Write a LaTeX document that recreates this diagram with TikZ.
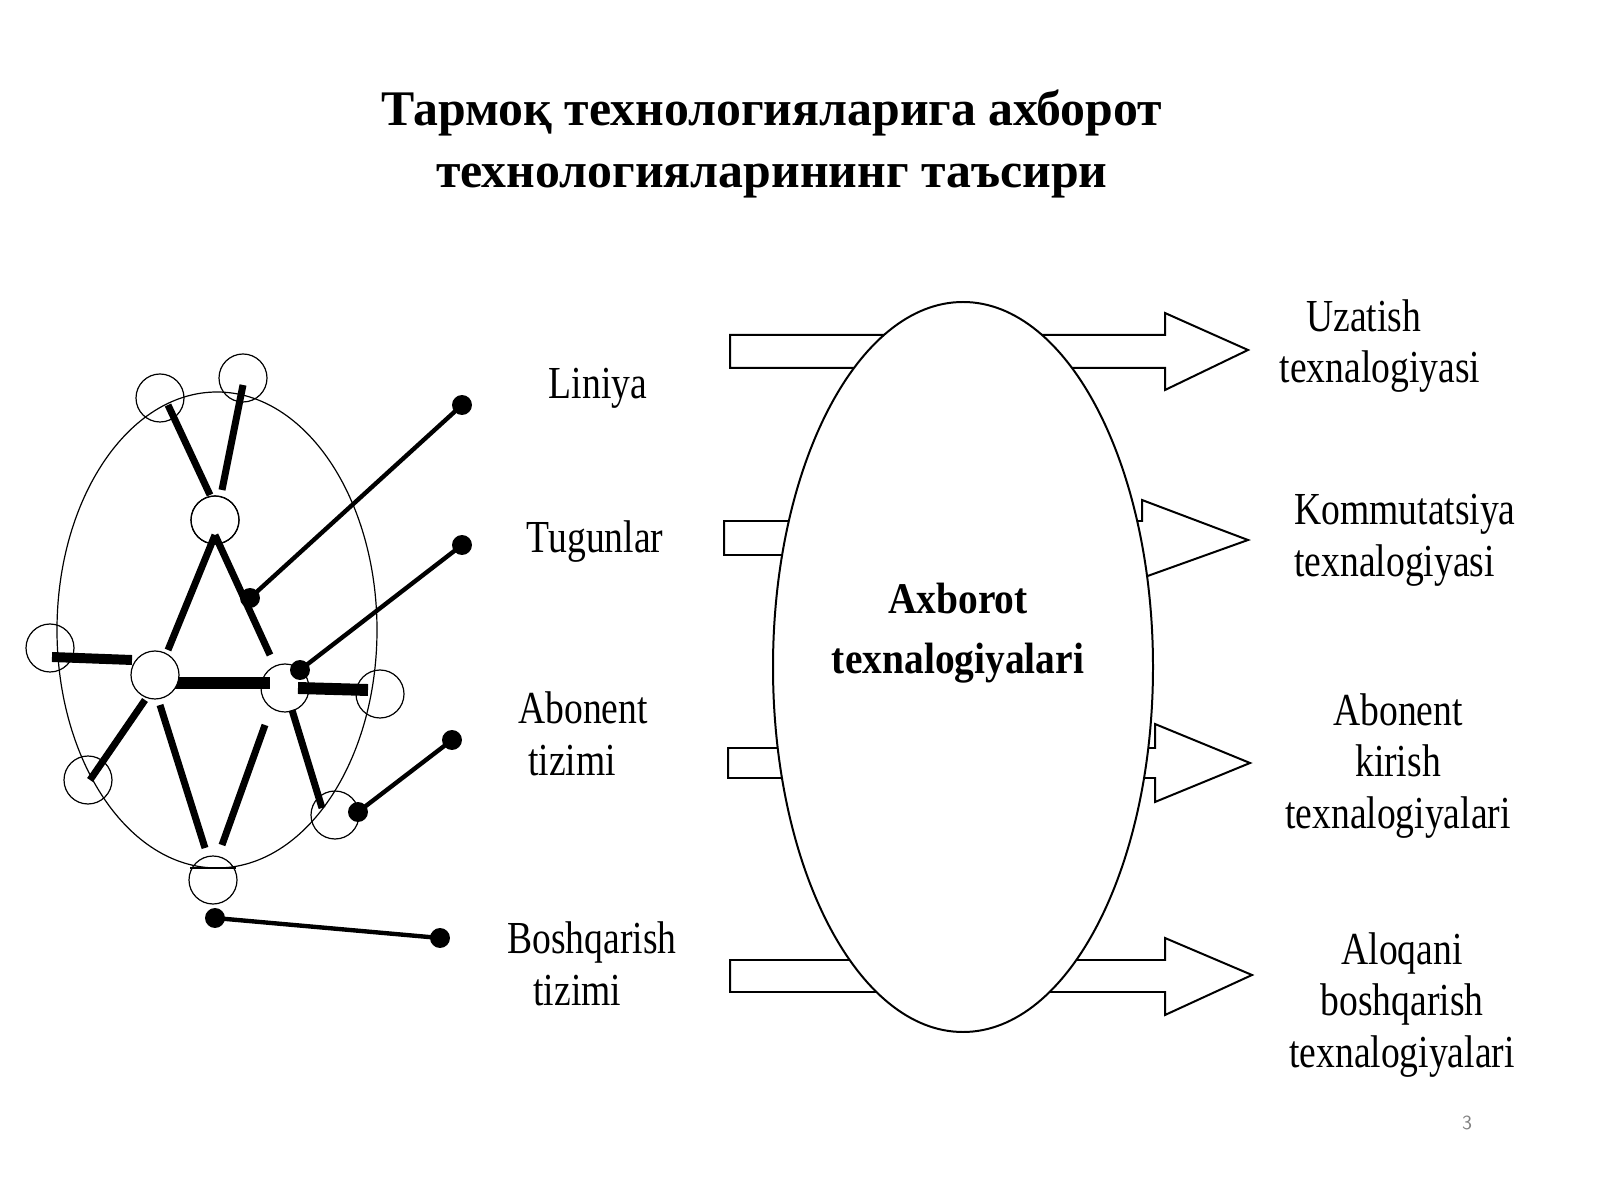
\documentclass[tikz,border=0pt]{standalone}
\usepackage{fontspec}
\setmainfont{Liberation Serif}
\begin{document}
\begin{tikzpicture}[x=0.5bp,y=-0.5bp,
  lbl/.style={font=\fontsize{23}{26}\selectfont, xscale=0.82, transform shape, align=center, inner sep=0},
  thin/.style={line width=0.6pt},
  bar/.style={line width=3.5pt},
  wire/.style={line width=2.2pt},
  dot/.style={circle, fill=black, inner sep=0, minimum size=10pt},
  sc/.style={thin, fill=white},
  arr/.style={line width=1pt, fill=white}]
\path[use as bounding box, fill=white] (0,0) rectangle (1600,1200);
% title
\node[font=\bfseries\fontsize{25}{31}\selectfont, align=center] (title) at (772,144) {Тармоқ технологияларига ахборот\\технологияларининг таъсири};
% left network
\draw[thin] (217,630) ellipse (160 and 238);
\foreach \n/\p in {c1/{(160,398)},c2/{(243,378)},c3/{(215,520)},c4/{(50,648)},c6/{(380,694)},c7/{(88,780)},c8/{(335,815)},c9/{(213,880)}}
  \draw[thin] \p circle (24) coordinate (\n);
\draw[thin] (190,868) -- (236,868);
\draw[bar] (168,405) -- (210,495);
\draw[bar] (243,385) -- (222,490);
\draw[bar] (215,535) -- (168,650);
\draw[bar] (215,535) -- (270,655);
\draw[line width=5pt] (52,657) -- (132,660);
\draw[line width=6pt] (175,683) -- (270,683);
\draw[line width=6pt] (298,688) -- (368,690);
\draw[bar] (145,700) -- (90,780);
\draw[bar] (160,705) -- (205,848);
\draw[bar] (265,725) -- (222,845);
\draw[bar] (292,710) -- (322,808);
\draw[sc] (155,675) circle (24) coordinate (c5);
\draw[thin] (285,688) circle (24);
\draw[thin,fill=none] (215,520) circle (24);
\node[dot] (d1a) at (250,598) {}; \node[dot] (d1b) at (462,405) {};
\node[dot] (d2a) at (300,670) {}; \node[dot] (d2b) at (462,545) {};
\node[dot] (d3a) at (358,812) {}; \node[dot] (d3b) at (452,740) {};
\node[dot] (d4a) at (215,918) {}; \node[dot] (d4b) at (440,938) {};
\draw[wire] (d1a.center) -- (d1b.center);
\draw[wire] (d2a.center) -- (d2b.center);
\draw[wire] (d3a.center) -- (d3b.center);
\draw[wire] (d4a.center) -- (d4b.center);
% left labels
\node[lbl] (l1) at (598,388) {Liniya};
\node[lbl] (l2) at (595,542) {Tugunlar};
\node[lbl, align=left, anchor=west] (l3) at (518,734) {Abonent\\\hspace*{6pt}tizimi};
\node[lbl, align=left, anchor=west] (l4) at (507,964) {Boshqarish\\\hspace*{16pt}tizimi};
% arrows
\draw[arr] (730,335) -- (1165,335) -- (1165,313) -- (1248,350) -- (1165,390) -- (1165,368) -- (730,368) -- cycle;
\draw[arr] (724,521) -- (1142,521) -- (1142,500) -- (1248,540) -- (1142,578) -- (1142,555) -- (724,555) -- cycle;
\draw[arr] (728,748) -- (1155,748) -- (1155,724) -- (1250,763) -- (1155,802) -- (1155,778) -- (728,778) -- cycle;
\draw[arr] (730,960) -- (1165,960) -- (1165,938) -- (1252,975) -- (1165,1015) -- (1165,992) -- (730,992) -- cycle;
% central ellipse
\draw[line width=1pt, fill=white] (963,667) ellipse (190 and 365);
\node[font=\bfseries\fontsize{22}{30}\selectfont, xscale=0.9, transform shape, align=center] (ax) at (958,633) {Axborot\\texnalogiyalari};
% right labels
\node[lbl] (r1) at (1380,346) {\hspace*{-20pt}Uzatish\\texnalogiyasi};
\node[lbl, align=left] (r2) at (1405,540) {Kommutatsiya\\texnalogiyasi};
\node[lbl] (r3) at (1398,766) {Abonent\\kirish\\texnalogiyalari};
\node[lbl] (r4) at (1402,1005) {Aloqani\\boshqarish\\texnalogiyalari};
\node[font=\sffamily\fontsize{10}{12}\selectfont, text=gray] (pg) at (1467,1123) {3};
\end{tikzpicture}
\end{document}
